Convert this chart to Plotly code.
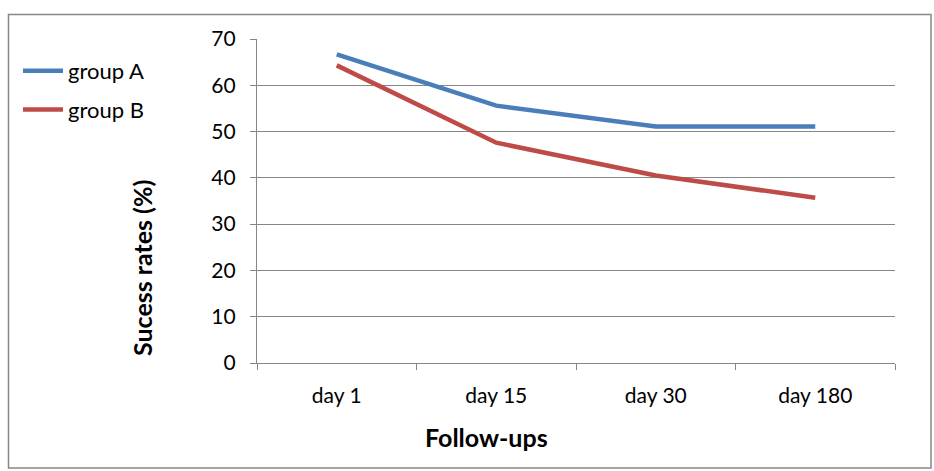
import plotly.graph_objects as go

follow_ups = ["day 1", "day 15", "day 30", "day 180"]
group_a = [66.7, 55.6, 51.1, 51.1]
group_b = [64.3, 47.6, 40.5, 35.7]
y_ticks = [0, 10, 20, 30, 40, 50, 60, 70]

W, H = 934, 471
L, R, T, B = 257, 39, 39, 108
plot_w, plot_h = W - L - R, H - T - B


def px_x(p):
    return (p - L) / plot_w


def px_y(p):
    return (H - B - p) / plot_h


FONT = "Lato, Calibri, Carlito, sans-serif"
GRID = "#868686"

fig = go.Figure()
fig.add_trace(go.Scatter(x=follow_ups, y=group_a, name="group A", mode="lines",
                         legendgroup="a",
                         line=dict(color="#4A7EBB", width=4.5)))
fig.add_trace(go.Scatter(x=follow_ups, y=group_b, name="group B", mode="lines",
                         legendgroup="b",
                         line=dict(color="#BE4B48", width=4.5)))

fig.update_layout(
    width=W, height=H,
    margin=dict(l=L, r=R, t=T, b=B),
    paper_bgcolor="white", plot_bgcolor="white",
    font=dict(family=FONT, size=21, color="black"),
    showlegend=True,
    legend=dict(x=px_x(18), y=px_y(50), xanchor="left", yanchor="top",
                bgcolor="rgba(0,0,0,0)", font=dict(size=22),
                tracegroupgap=7, itemwidth=40),
    xaxis=dict(type="category", range=[-0.5, 3.5], showgrid=False,
               showline=True, linecolor=GRID, linewidth=1.3,
               ticks="outside", ticklen=6, tickcolor=GRID, tickson="boundaries",
               tickfont=dict(size=21), ticklabelstandoff=14, fixedrange=True),
    yaxis=dict(range=[0, 70], tickvals=y_ticks, showgrid=True, gridcolor=GRID,
               gridwidth=1.3, showline=True, linecolor=GRID, linewidth=1.3,
               ticks="outside", ticklen=6, tickcolor=GRID, zeroline=False,
               tickfont=dict(size=21), ticklabelstandoff=10, fixedrange=True),
    annotations=[
        dict(text="<b>Sucess rates (%)</b>", textangle=-90,
             xref="paper", yref="paper", x=px_x(142), y=px_y(268),
             xanchor="center", yanchor="middle",
             showarrow=False, font=dict(size=25)),
        dict(text="<b>Follow-ups</b>",
             xref="paper", yref="paper", x=px_x(486), y=px_y(437),
             xanchor="center", yanchor="middle",
             showarrow=False, font=dict(size=25)),
    ],
    shapes=[dict(type="rect", xref="paper", yref="paper",
                 x0=px_x(8.5), x1=px_x(931), y0=px_y(468), y1=px_y(14.5),
                 line=dict(color=GRID, width=1.5), layer="below")],
)

fig.write_html("out.html")
